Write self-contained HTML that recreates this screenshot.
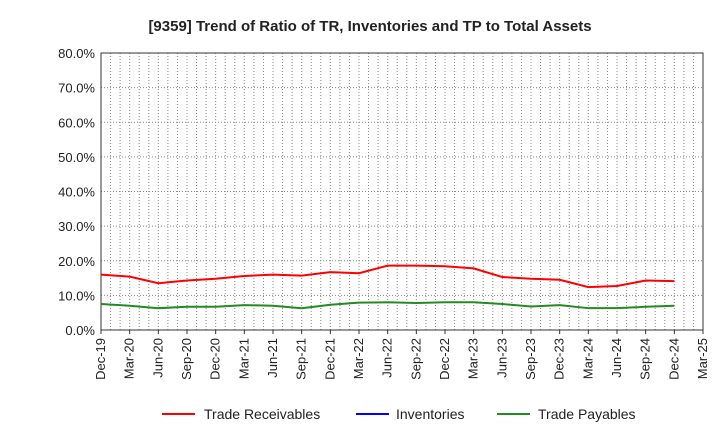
<!DOCTYPE html>
<html><head><meta charset="utf-8"><style>
body{margin:0;background:#fff;font-family:"Liberation Sans",sans-serif}
</style></head><body>
<svg id="c" width="720" height="440" xmlns="http://www.w3.org/2000/svg" font-family="Liberation Sans, sans-serif">
<text x="370" y="31" text-anchor="middle" font-size="15" font-weight="bold" fill="#222">[9359]  Trend of Ratio of TR, Inventories and TP to Total Assets</text>
<g id="grid"></g><g id="axes"></g><g id="series"></g>
<g>
<line x1="162" y1="414" x2="195" y2="414" stroke="#f00" stroke-width="2"/>
<text x="204" y="419" font-size="14" fill="#222">Trade Receivables</text>
<line x1="356" y1="414" x2="389" y2="414" stroke="#00f" stroke-width="2"/>
<text x="396" y="419" font-size="14" fill="#222">Inventories</text>
<line x1="497" y1="414" x2="530" y2="414" stroke="#228b22" stroke-width="2"/>
<text x="538" y="419" font-size="14" fill="#222">Trade Payables</text>
</g>
</svg>
<script>
const xLabels=["Dec-19","Mar-20","Jun-20","Sep-20","Dec-20","Mar-21","Jun-21","Sep-21","Dec-21","Mar-22","Jun-22","Sep-22","Dec-22","Mar-23","Jun-23","Sep-23","Dec-23","Mar-24","Jun-24","Sep-24","Dec-24","Mar-25"];
const yTicks=[0,10,20,30,40,50,60,70,80];
const tradeReceivables=[16.0,15.4,13.5,14.3,14.8,15.6,16.0,15.7,16.7,16.4,18.6,18.6,18.4,17.8,15.3,14.8,14.5,12.4,12.7,14.3,14.1];
const tradePayables=[7.5,7.0,6.3,6.7,6.7,7.2,7.0,6.3,7.3,7.9,8.0,7.8,8.0,8.0,7.5,6.8,7.2,6.3,6.3,6.7,7.0];
const NS="http://www.w3.org/2000/svg";
const L=101,R=703,T=53,B=330;
const nQ=xLabels.length-1;
const xq=i=>L+(R-L)*i/nQ;
const y=v=>B-(B-T)*v/80;
function mk(t,a,p){const e=document.createElementNS(NS,t);for(const k in a)e.setAttribute(k,a[k]);p.appendChild(e);return e;}
const grid=document.getElementById('grid'),axes=document.getElementById('axes'),ser=document.getElementById('series');
for(let m=1;m<nQ*3;m++){const x=L+(R-L)*m/(nQ*3);
const g=mk('line',{x1:x,y1:T,x2:x,y2:B,stroke:'#888','stroke-dasharray':'1,2','stroke-width':1},grid);

}
yTicks.forEach(v=>{
if(v>0){const g=mk('line',{x1:L,y1:y(v),x2:R,y2:y(v),stroke:'#888','stroke-dasharray':'1,2','stroke-width':1},grid);

}
const t=mk('text',{x:L-6,y:y(v)+5,'text-anchor':'end','font-size':13,fill:'#222'},axes);t.textContent=v.toFixed(1)+'%';

});
xLabels.forEach((s,i)=>{const x=xq(i);
mk('line',{x1:x,y1:B,x2:x,y2:B+4,stroke:'#333'},axes);
const t=mk('text',{x:x+4,y:B+8,'text-anchor':'end','font-size':13,fill:'#222',transform:`rotate(-90 ${x+4} ${B+8})`},axes);t.textContent=s;

});
const fr=mk('rect',{x:L,y:T,width:R-L,height:B-T,fill:'none',stroke:'#333','stroke-width':1},axes);


function line(d,c,n){const p=mk('polyline',{points:d.map((v,i)=>xq(i)+','+y(v)).join(' '),fill:'none',stroke:c,'stroke-width':2},ser);

}
line(tradePayables,'#228b22','trade-payables-line');
line(tradeReceivables,'#f00','trade-receivables-line');
</script>
</body></html>
